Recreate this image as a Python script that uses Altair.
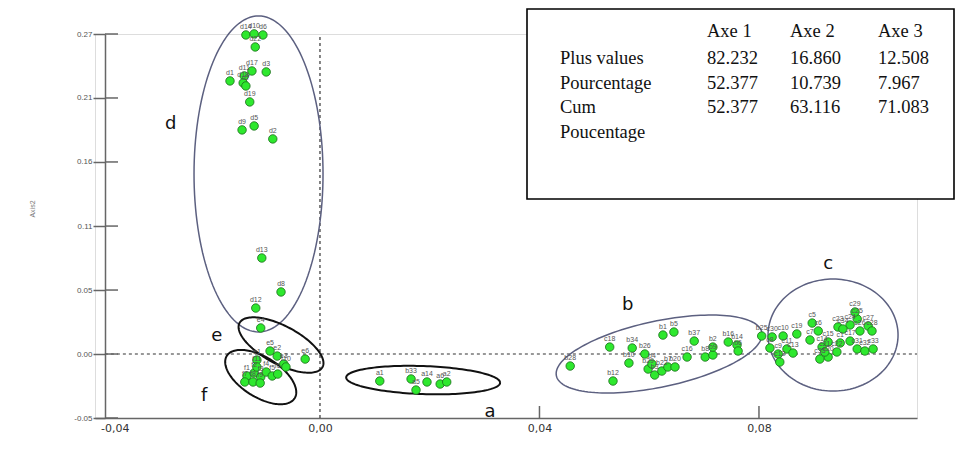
import altair as alt
import pandas as pd
import numpy as np

# ---------------- data ----------------
XMIN, XMAX = -0.0410, 0.1088
YMIN, YMAX = -0.0533, 0.2666
Y_TICKS = [-0.0533, 0.0, 0.0533, 0.1066, 0.16, 0.2133, 0.2666]
X_TICKS = [-0.04, 0.0, 0.04, 0.08]
X_INNER_TICKS = [0.04, 0.08]

d_labels = ["d14", "d10", "d6", "d22", "d17", "d3", "d1", "d11", "d18", "d7",
            "d19", "d9", "d5", "d2", "d13", "d8", "d12"]
d_x = [-0.0135, -0.0120, -0.0104, -0.0118, -0.0124, -0.0098, -0.0164, -0.0138, -0.0140, -0.0135,
       -0.0128, -0.0142, -0.0120, -0.0086, -0.0106, -0.0071, -0.0117]
d_y = [0.2658, 0.2667, 0.2658, 0.2558, 0.2358, 0.2350, 0.2275, 0.2317, 0.2258, 0.2233,
       0.2100, 0.1867, 0.1900, 0.1792, 0.0800, 0.0517, 0.0383]

e_labels = ["e4", "e5", "e6", "e2", "e3", "e1"]
e_x = [-0.0108, -0.0091, -0.0027, -0.0078, -0.0066, -0.0115]
e_y = [0.0217, 0.0025, -0.0042, -0.0017, -0.0083, -0.0050]

f_labels = ["f1", "f2", "f3", "f4", "f5", "f6", "f7", "f8", "f9", "f10", "f11"]
f_x = [-0.0133, -0.0120, -0.0108, -0.0098, -0.0087, -0.0077, -0.0137, -0.0122, -0.0109, -0.0062, -0.0115]
f_y = [-0.0183, -0.0158, -0.0192, -0.0150, -0.0183, -0.0167, -0.0233, -0.0233, -0.0242, -0.0108, -0.0108]

a_labels = ["a1", "b33", "a5", "a14", "a6", "a2"]
a_x = [0.0109, 0.0166, 0.0175, 0.0195, 0.0219, 0.0231]
a_y = [-0.0225, -0.0208, -0.0300, -0.0233, -0.0250, -0.0233]

b_labels = ["b28", "c18", "b34", "b26", "b10", "b12", "b1", "b5", "b37", "c16", "b8", "b9",
            "b2", "b16", "b14", "b6", "b29", "b3", "b22", "b7", "b20", "b4"]
b_x = [0.0456, 0.0528, 0.0569, 0.0592, 0.0563, 0.0534, 0.0625, 0.0645, 0.0682, 0.0669, 0.0702, 0.0716,
       0.0716, 0.0744, 0.0760, 0.0762, 0.0598, 0.0610, 0.0623, 0.0634, 0.0647, 0.0605]
b_y = [-0.0100, 0.0058, 0.0050, 0.0000, -0.0075, -0.0225, 0.0158, 0.0183, 0.0108, -0.0025, -0.0025, -0.0008,
       0.0058, 0.0100, 0.0075, 0.0025, -0.0125, -0.0175, -0.0142, -0.0108, -0.0108, -0.0083]

c_labels = ["b25", "c30", "c10", "c19", "c5", "c6", "c7", "c8", "c9", "c11", "c12", "c13", "c14",
            "c15", "c1", "c17", "c20", "c21", "c22", "c23", "c24", "c25", "c26", "c27", "c28",
            "c29", "c31", "c32", "c33", "c34", "c35"]
c_x = [0.0805, 0.0824, 0.0844, 0.0869, 0.0897, 0.0908, 0.0893, 0.0820, 0.0835, 0.0851, 0.0838, 0.0862,
       0.0915, 0.0926, 0.0948, 0.0966, 0.0926, 0.0920, 0.0942, 0.0944, 0.0966, 0.0979, 0.0984, 0.0999,
       0.1006, 0.0975, 0.0979, 0.0993, 0.1008, 0.0953, 0.0911]
c_y = [0.0150, 0.0142, 0.0150, 0.0167, 0.0258, 0.0192, 0.0117, 0.0050, 0.0000, 0.0042, -0.0067, 0.0008,
       0.0058, 0.0100, 0.0092, 0.0108, -0.0025, 0.0017, 0.0017, 0.0225, 0.0242, 0.0292, 0.0192, 0.0233,
       0.0192, 0.0350, 0.0042, 0.0025, 0.0042, 0.0208, -0.0042]

# cluster ellipses: centre (data units), semi-axes (px), rotation (deg), colour, width
ell_names = ["a", "b", "c", "d", "e", "f"]
ell_cx = [0.0188, 0.0618, 0.0935, -0.0112, -0.0071, -0.0108]
ell_cy = [-0.0217, 0.0000, 0.0158, 0.1500, 0.0075, -0.0192]
ell_rx = [77, 105, 65, 64.5, 47, 40]
ell_ry = [14, 33, 56, 158, 19, 20]
ell_rot = [2, -12, 0, 0, 28, 32]
ell_col = ["#111111", "#5c6080", "#5c6080", "#5c6080", "#111111", "#111111"]
ell_w = [2, 1.5, 1.5, 1.5, 2, 2]

# cluster letters
letter_text = ["a", "b", "c", "d", "e", "f"]
letter_x = [0.0310, 0.0561, 0.0926, -0.0272, -0.0188, -0.0211]
letter_y = [-0.0483, 0.0408, 0.0750, 0.1917, 0.0150, -0.0350]

# table
table_headers = ["Axe 1", "Axe 2", "Axe 3"]
table_rows = ["Plus values", "Pourcentage", "Cum", "Poucentage"]
table_values = [[82.232, 16.860, 12.508], [52.377, 10.739, 7.967], [52.377, 63.116, 71.083]]

# ---------------- layout ----------------
W, H = 822, 384
XPX = W / (XMAX - XMIN)
YPX = H / (YMAX - YMIN)

xscale = alt.Scale(domain=[XMIN, XMAX], nice=False, zero=False)
yscale = alt.Scale(domain=[YMIN, YMAX], nice=False, zero=False)

X_AXIS = alt.Axis(values=X_TICKS, title=None, grid=False, tickSize=0, labelPadding=4,
                  labelExpr="replace(replace(format(datum.value, '.2f'), '.', ','), '\u2212', '-')",
                  labelFont="DejaVu Sans", labelFontSize=11, labelColor="#333",
                  labelFlush=8, domainColor="#666", domainWidth=1.5)
Y_AXIS = alt.Axis(values=Y_TICKS, title=None, grid=False, offset=-10,
                  labelExpr="replace(format(datum.value, '.2f'), '\u2212', '-')",
                  tickSize=12, tickColor="#666", tickWidth=1.5, labelPadding=1,
                  labelFont="Liberation Sans", labelFontSize=8, labelColor="#555",
                  domainColor="#666", domainWidth=1.5)

pts = pd.DataFrame({
    "label": d_labels + e_labels + f_labels + a_labels + b_labels + c_labels,
    "x": d_x + e_x + f_x + a_x + b_x + c_x,
    "y": d_y + e_y + f_y + a_y + b_y + c_y,
})

ell_rows = []
for n, cx, cy, rx, ry, rot, col, w in zip(ell_names, ell_cx, ell_cy, ell_rx, ell_ry, ell_rot, ell_col, ell_w):
    t = np.linspace(0, 2 * np.pi, 145)
    th = np.radians(rot)
    dx = rx * np.cos(t) * np.cos(th) - ry * np.sin(t) * np.sin(th)
    dy = rx * np.cos(t) * np.sin(th) + ry * np.sin(t) * np.cos(th)
    for i, (ex, ey) in enumerate(zip(cx + dx / XPX, cy - dy / YPX)):
        ell_rows.append({"name": n, "i": i, "x": ex, "y": ey, "col": col, "w": w})
ell = pd.DataFrame(ell_rows)

hline = pd.DataFrame({"y": [0.0], "x0": [-0.0392], "x1": [XMAX]})
vline = pd.DataFrame({"x": [0.0], "y0": [YMIN], "y1": [YMAX]})

layers = []
layers.append(alt.Chart(vline).mark_rule(color="#333", strokeDash=[3, 3], strokeWidth=1.2).encode(
    x=alt.X("x:Q", scale=xscale, axis=X_AXIS),
    y=alt.Y("y0:Q", scale=yscale, axis=Y_AXIS), y2="y1:Q"))
layers.append(alt.Chart(hline).mark_rule(color="#333", strokeDash=[3, 3], strokeWidth=1.2).encode(
    y=alt.Y("y:Q", scale=yscale, axis=Y_AXIS),
    x=alt.X("x0:Q", scale=xscale, axis=X_AXIS), x2="x1:Q"))
# inner halves of the ticks
layers.append(alt.Chart(pd.DataFrame({"y": Y_TICKS})).mark_rule(color="#666", strokeWidth=1.5).encode(
    y=alt.Y("y:Q", scale=yscale, axis=Y_AXIS), x=alt.value(10), x2=alt.value(23)))
layers.append(alt.Chart(pd.DataFrame({"x": X_INNER_TICKS})).mark_rule(color="#666", strokeWidth=1.5).encode(
    x=alt.X("x:Q", scale=xscale, axis=X_AXIS), y=alt.value(H - 12), y2=alt.value(H)))
layers.append(alt.Chart(ell).mark_line(fill=None).encode(
    x=alt.X("x:Q", scale=xscale, axis=X_AXIS),
    y=alt.Y("y:Q", scale=yscale, axis=Y_AXIS),
    detail="name:N", order="i:Q",
    color=alt.Color("col:N", scale=None),
    strokeWidth=alt.StrokeWidth("w:Q", scale=None)))
layers.append(alt.Chart(pts).mark_point(filled=True, shape="circle", size=72, fill="#2ee82e",
                                        stroke="#1c6b1c", strokeWidth=0.8, opacity=1).encode(
    x=alt.X("x:Q", scale=xscale, axis=X_AXIS),
    y=alt.Y("y:Q", scale=yscale, axis=Y_AXIS)))
layers.append(alt.Chart(pts).mark_text(fontSize=7, color="#555", dy=-8, font="Liberation Sans").encode(
    x=alt.X("x:Q", scale=xscale, axis=X_AXIS),
    y=alt.Y("y:Q", scale=yscale, axis=Y_AXIS), text="label:N"))
layers.append(alt.Chart(pd.DataFrame({"t": letter_text, "x": letter_x, "y": letter_y})).mark_text(
    fontSize=18, color="#111", font="DejaVu Sans").encode(
    x=alt.X("x:Q", scale=xscale, axis=X_AXIS),
    y=alt.Y("y:Q", scale=yscale, axis=Y_AXIS), text="t:N"))
layers.append(alt.Chart(pd.DataFrame({"t": ["Axis2"]})).mark_text(
    fontSize=7, color="#777", angle=270, font="Liberation Sans").encode(
    x=alt.value(-62), y=alt.value(175), text="t:N"))

# table box
one = pd.DataFrame({"k": [0]})
layers.append(alt.Chart(one).mark_rect(fill="white", stroke="black", strokeWidth=1.6).encode(
    x=alt.value(432), x2=alt.value(859), y=alt.value(-25), y2=alt.value(165)))
col_x = [612, 695, 783]
row_label_x = 465
header_y = -3
row_y = [24, 49, 73, 98]


def cell(text, px, py):
    return alt.Chart(pd.DataFrame({"t": [text]})).mark_text(
        font="Liberation Serif", fontSize=18.5, color="#111", align="left", baseline="middle").encode(
        x=alt.value(px), y=alt.value(py), text="t:N")


for j, h in enumerate(table_headers):
    layers.append(cell(h, col_x[j], header_y))
for r, name in enumerate(table_rows):
    layers.append(cell(name, row_label_x, row_y[r]))
for r, vals in enumerate(table_values):
    for j, v in enumerate(vals):
        layers.append(cell(f"{v:.3f}", col_x[j], row_y[r]))

chart = alt.layer(*layers).properties(
    width=W, height=H,
    padding={"left": 87, "top": 26, "right": 38, "bottom": 18},
    autosize=alt.AutoSizeParams(type="none"),
).configure_view(stroke=None).configure(background="white")

chart.save("out.html", embed_options={"renderer": "svg", "actions": False})
